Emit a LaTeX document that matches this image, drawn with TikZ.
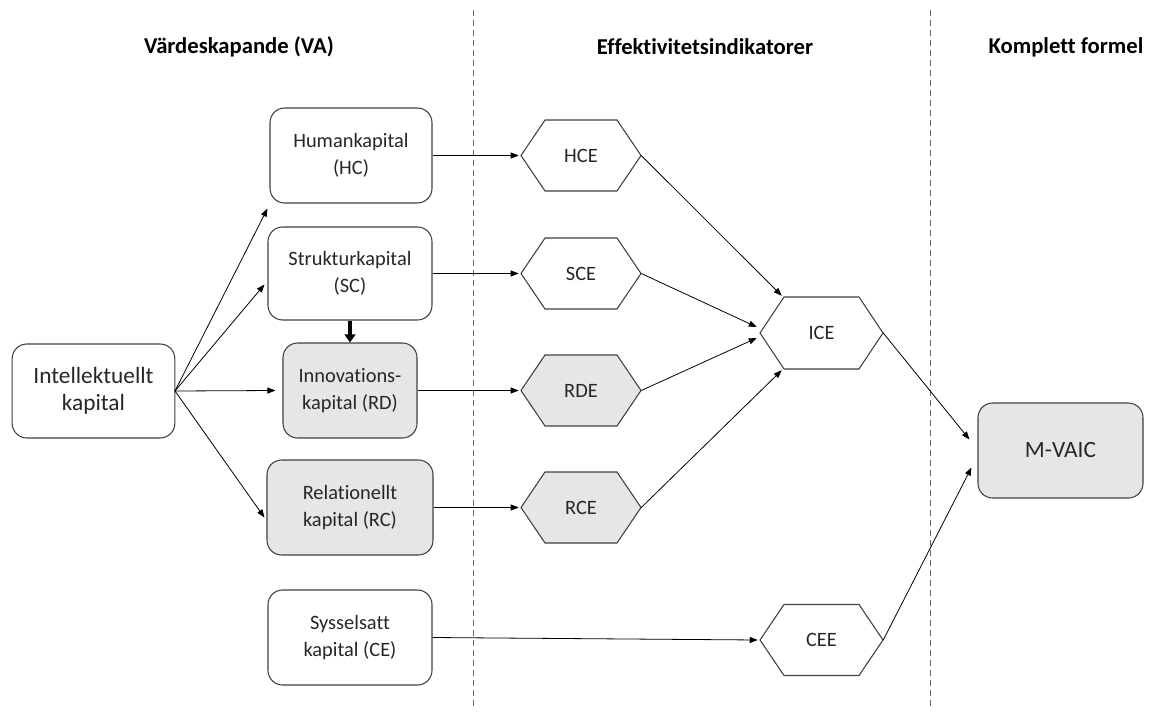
\documentclass[tikz,border=0pt]{standalone}
\usepackage{fontspec}
\setmainfont{Carlito}[Ligatures={NoCommon,NoRare,NoContextual}]
\usetikzlibrary{arrows.meta,calc}
\definecolor{edge}{HTML}{404040}
\definecolor{boxgray}{HTML}{E6E6E6}
\tikzset{
  rbox/.style={draw=edge, line width=0.8pt, rounded corners=11pt, align=center, inner sep=2pt,
    font=\fontsize{15.3}{20}\selectfont, text=black!85},
  hexline/.style={draw=edge, line width=0.8pt},
  hexbox/.style={draw=none, inner sep=0pt, font=\fontsize{15.3}{20}\selectfont, text=black!85},
  conn/.style={draw=black, line width=0.6pt, -{Triangle[length=6pt,width=4.5pt]}},
  thick conn/.style={draw=black, line width=3pt, -{Triangle[length=6pt,width=8pt]}},
  header/.style={font=\fontsize{17}{20}\selectfont\bfseries},
  divider/.style={draw=edge!80, line width=0.7pt, dash pattern=on 4.5pt off 3pt}
}
% name, cx, cy, half width, half height, text, fill
\newcommand{\hexa}[7]{%
  \filldraw[hexline, fill=#7] (#2-#4,#3) -- (#2-#4+24,#3-#5) -- (#2+#4-24,#3-#5) -- (#2+#4,#3)
    -- (#2+#4-24,#3+#5) -- (#2-#4+24,#3+#5) -- cycle;
  \node[hexbox, minimum width={2*#4*0.75pt}, minimum height={2*#5*0.75pt}] (#1) at (#2,#3) {#6};}
\begin{document}
\begin{tikzpicture}[x=0.75pt, y=-0.75pt]
\useasboundingbox (0,0) rectangle (1150,714);
% headers
\node[header] (h1) at (239,47) {Värdeskapande (VA)};
\node[header] (h2) at (705,47) {Effektivitetsindikatorer};
\node[header] (h3) at (1066,47) {Komplett formel};
% dividers
\coordinate (d1a) at (473,10); \coordinate (d1b) at (473,706);
\coordinate (d2a) at (930,10); \coordinate (d2b) at (930,706);
\draw[divider] (d1a) -- (d1b);
\draw[divider] (d2a) -- (d2b);
% boxes
\node[rbox, fill=white, minimum width=122pt, minimum height=70.5pt, font=\fontsize{17.5}{20}\selectfont] (ik) at (93.5,391) {Intellektuellt\\kapital};
\node[rbox, fill=white, minimum width=121.5pt, minimum height=71.25pt] (hc) at (351,155.5) {Humankapital\\(HC)};
\node[rbox, fill=white, minimum width=123pt, minimum height=69.75pt] (sc) at (350,273.5) {Strukturkapital\\(SC)};
\node[rbox, fill=boxgray, minimum width=100.5pt, minimum height=71.25pt] (rd) at (350,390.5) {Innovations-\\kapital (RD)};
\node[rbox, fill=boxgray, minimum width=124.5pt, minimum height=71.25pt] (rc) at (350,507.5) {Relationellt\\kapital (RC)};
\node[rbox, fill=white, minimum width=123pt, minimum height=71.25pt] (ce) at (350,637.5) {Sysselsatt\\kapital (CE)};
\node[rbox, fill=boxgray, minimum width=123.75pt, minimum height=71.25pt, font=\fontsize{17.5}{20}\selectfont] (mv) at (1060.5,450.5) {M-VAIC};
% hexagons
\hexa{hce}{581}{155.5}{60}{35.5}{HCE}{white}
\hexa{sce}{581}{273.5}{60}{35.5}{SCE}{white}
\hexa{rde}{581}{390.5}{60}{35.5}{RDE}{boxgray}
\hexa{rce}{581}{507.5}{60}{35.5}{RCE}{boxgray}
\hexa{ice}{821.5}{333}{61.5}{36}{ICE}{white}
\hexa{cee}{821.5}{640}{61.5}{35.5}{CEE}{white}
% connectors from Intellektuellt kapital
\coordinate (ikr) at (175,391);
\draw[conn] (ikr) -- ($(hc.south west)+(-2,5)$);
\draw[conn] (ikr) -- ($(sc.west)+(-3,11)$);
\draw[conn] (ikr) -- ($(rd.west)+(-7,0)$);
\draw[conn] (ikr) -- ($(rc.west)+(-2,10)$);
% thick arrow
\draw[thick conn] (sc.south) -- (rd.north);
% to hexagons
\draw[conn] (hc.east) -- ($(hce.west)+(-2,0)$);
\draw[conn] (sc.east) -- ($(sce.west)+(-2,0)$);
\draw[conn] (rd.east) -- ($(rde.west)+(-2,0)$);
\draw[conn] (rc.east) -- ($(rce.west)+(-2,0)$);
\draw[conn] (ce.east) -- ($(cee.west)+(-2,0)$);
% to ICE
\draw[conn] (hce.east) -- ($(ice.north west)+(22,-1)$);
\draw[conn] (sce.east) -- ($(ice.west)+(-3,-6)$);
\draw[conn] (rde.east) -- ($(ice.west)+(-3,5)$);
\draw[conn] (rce.east) -- ($(ice.south west)+(22,1)$);
% to M-VAIC
\draw[conn] (ice.east) -- ($(mv.west)+(-8,-11)$);
\draw[conn] (cee.east) -- ($(mv.west)+(-6,17)$);
\end{tikzpicture}
\end{document}
